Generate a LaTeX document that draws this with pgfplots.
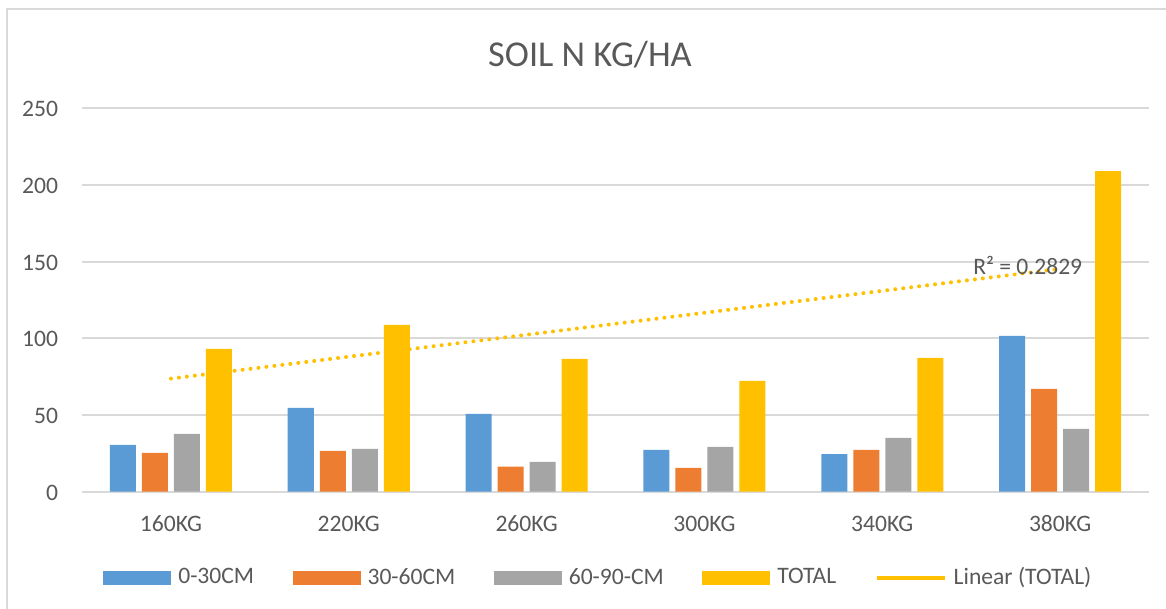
\documentclass[border=0pt]{standalone}
\usepackage{pgfplots}
\pgfplotsset{compat=1.18}
\usepackage{fontspec}
\setmainfont{Carlito}
\definecolor{cblue}{HTML}{5B9BD5}
\definecolor{corange}{HTML}{ED7D31}
\definecolor{cgray}{HTML}{A5A5A5}
\definecolor{cyellow}{HTML}{FFC000}
\definecolor{ctext}{HTML}{595959}
\definecolor{cgrid}{HTML}{D9D9D9}
\begin{document}
\begin{tikzpicture}
\begin{axis}[
  name=ax,
  scale only axis,
  width=533.5pt, height=191.6pt,
  xmin=-0.5, xmax=5.5, ymin=0, ymax=250,
  ytick={0,50,100,150,200,250},
  xtick={0,1,2,3,4,5},
  xticklabels={160KG,220KG,260KG,300KG,340KG,380KG},
  axis line style={draw=none},
  major tick length=0pt,
  ymajorgrids, grid style={cgrid, line width=1pt},
  /pgf/number format/assume math mode=true,
  ticklabel style={font=\fontsize{11.8}{13}\selectfont, text=ctext},
  yticklabel style={inner sep=0pt, anchor=base east, xshift=-11.8pt, yshift=-4.3pt},
  xticklabel style={inner sep=0pt, anchor=base, yshift=-20.2pt},
  ybar=3pt, bar width=13pt,
  legend columns=5,
  legend style={draw=none, fill=none, at={(0.483,-0.225)}, anchor=center,
    font=\fontsize{11.8}{13}\selectfont, text=ctext,
    nodes={inner sep=0pt},
    /tikz/every odd column/.append style={column sep=3.5pt},
    /tikz/every even column/.append style={column sep=19.2pt}},
  legend image code/.code={\fill[#1] (0pt,-3.5pt) rectangle (34pt,3.5pt);},
]
\addplot[fill=cblue, draw=none] coordinates {(0,30.5) (1,54.6) (2,50.7) (3,27.2) (4,24.5) (5,101.6)};
\addlegendentry{0-30CM}
\addplot[fill=corange, draw=none] coordinates {(0,25.2) (1,26.5) (2,16.3) (3,15.5) (4,27.2) (5,67.0)};
\addlegendentry{30-60CM}
\addplot[fill=cgray, draw=none] coordinates {(0,37.6) (1,27.8) (2,19.4) (3,29.2) (4,35.0) (5,40.9)};
\addlegendentry{60-90-CM}
\addplot[fill=cyellow, draw=none] coordinates {(0,93.1) (1,108.7) (2,86.6) (3,72.2) (4,87.2) (5,209.1)};
\addlegendentry{TOTAL}
\addplot[sharp plot, draw=cyellow, line width=2pt, line cap=round, dash pattern=on 0.01pt off 4pt, bar shift=0pt,
  legend image code/.code={\draw[cyellow, line width=2pt, solid, line cap=butt] (0pt,0pt) -- (34pt,0pt);}]
  coordinates {(0,73.7) (5,145.3)};
\addlegendentry{Linear (TOTAL)}
\node[anchor=center, text=ctext, font=\fontsize{11.8}{13}\selectfont, inner sep=0pt] at (axis cs:4.818,147.5) {R² = 0.2829};
\end{axis}
\node[anchor=base, text=ctext, font=\fontsize{18.2}{20}\selectfont, inner sep=0pt, xshift=-12.75pt, yshift=20.9pt] at (ax.north) {SOIL N KG/HA};
\draw[cgrid, line width=1pt] ([xshift=-37.5pt,yshift=-60pt]ax.south west) -- ([xshift=-37.5pt,yshift=49.5pt]ax.north west) -- ([xshift=10pt,yshift=49.5pt]ax.north east);
\pgfresetboundingbox
\useasboundingbox ([xshift=-41pt,yshift=-58.3pt]ax.south west) rectangle ([xshift=8.5pt,yshift=54.2pt]ax.north east);
\end{tikzpicture}
\end{document}
